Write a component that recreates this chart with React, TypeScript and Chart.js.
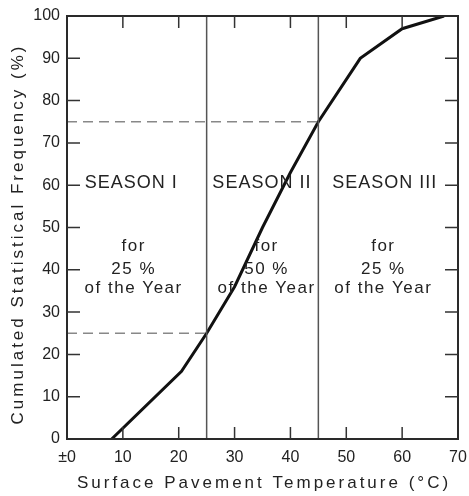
import React, { useEffect, useRef } from "react";
import { Chart, registerables } from "chart.js";

Chart.register(...registerables);

// Cumulated frequency curve (temperature °C -> cumulated frequency %)
const temperatures = [8, 20.5, 25, 30, 35, 40, 45, 52.5, 60, 67.5];
const frequencies = [0, 16, 25, 36, 50, 63, 75, 90, 97, 100];

// Season boundaries and the quartile levels they correspond to
const seasonBounds = [25, 45];
const quartileLevels = [25, 75];

// Tick labels
const xTickValues = [0, 10, 20, 30, 40, 50, 60, 70];
const xTickLabels = ["±0", "10", "20", "30", "40", "50", "60", "70"];
const yTickValues = [0, 10, 20, 30, 40, 50, 60, 70, 80, 90, 100];

// Season annotations
const seasonNames = ["SEASON I", "SEASON II", "SEASON III"];
const seasonShares = ["25 %", "50 %", "25 %"];
const seasonHeaderX = [11.4, 34.8, 56.8];
const seasonBodyX = [11.8, 35.6, 56.5];
const seasonTextY = [60.5, 45.5, 40, 35.6];

const xTitle = "Surface Pavement Temperature (°C)";
const yTitle = "Cumulated Statistical Frequency (%)";

const FONT = "'Liberation Sans', Arial, sans-serif";
const INK = "#222";

const decor = {
  id: "decor",
  afterDatasetsDraw(chart: any) {
    const { ctx, chartArea: a, scales } = chart;
    const xs = scales.x;
    const ys = scales.y;
    ctx.save();
    // frame
    ctx.strokeStyle = "#2a2a2a";
    ctx.lineWidth = 2;
    ctx.strokeRect(a.left, a.top, a.right - a.left, a.bottom - a.top);
    // inner tick marks
    ctx.lineWidth = 1.5;
    ctx.strokeStyle = "#333";
    ctx.beginPath();
    for (const v of xTickValues) {
      if (v <= xs.min || v >= xs.max) continue;
      const px = xs.getPixelForValue(v);
      ctx.moveTo(px, a.bottom);
      ctx.lineTo(px, a.bottom - 12);
      ctx.moveTo(px, a.top);
      ctx.lineTo(px, a.top + 12);
    }
    for (const v of yTickValues) {
      if (v <= ys.min || v >= ys.max) continue;
      const py = ys.getPixelForValue(v);
      ctx.moveTo(a.left, py);
      ctx.lineTo(a.left + 13, py);
      ctx.moveTo(a.right, py);
      ctx.lineTo(a.right - 13, py);
    }
    ctx.stroke();

    // season texts
    ctx.fillStyle = INK;
    ctx.textAlign = "center";
    ctx.textBaseline = "middle";
    seasonNames.forEach((name, i) => {
      ctx.font = `18px ${FONT}`;
      (ctx as any).letterSpacing = "1px";
      ctx.fillText(name, xs.getPixelForValue(seasonHeaderX[i]) + 0.5, ys.getPixelForValue(seasonTextY[0]));
      ctx.font = `17px ${FONT}`;
      (ctx as any).letterSpacing = "1.5px";
      const bx = xs.getPixelForValue(seasonBodyX[i]) + 0.75;
      ctx.fillText("for", bx, ys.getPixelForValue(seasonTextY[1]));
      ctx.fillText(seasonShares[i], bx, ys.getPixelForValue(seasonTextY[2]));
      ctx.fillText("of the Year", bx, ys.getPixelForValue(seasonTextY[3]));
    });
    ctx.restore();
  },
  afterDraw(chart: any) {
    const { ctx, chartArea: a } = chart;
    ctx.save();
    ctx.fillStyle = INK;
    ctx.font = `17px ${FONT}`;
    (ctx as any).letterSpacing = "3px";
    ctx.textAlign = "center";
    ctx.textBaseline = "middle";
    ctx.fillText(xTitle, (a.left + a.right) / 2 + 1.5, a.bottom + 44);
    ctx.translate(18, (a.top + a.bottom) / 2 + 8);
    ctx.rotate(-Math.PI / 2);
    ctx.fillText(yTitle, 1.5, 0);
    ctx.restore();
  },
};

export default function App() {
  const canvasRef = useRef<HTMLCanvasElement | null>(null);

  useEffect(() => {
    document.body.style.margin = "0";
    const canvas = canvasRef.current;
    if (!canvas) return;

    const curve = temperatures.map((t, i) => ({ x: t, y: frequencies[i] }));
    const verticals = seasonBounds.map((b) => ({
      type: "line" as const,
      data: [
        { x: b, y: 0 },
        { x: b, y: 100 },
      ],
      borderColor: "#555",
      borderWidth: 1.5,
      pointRadius: 0,
      fill: false,
    }));
    const dashed = quartileLevels.map((q, i) => ({
      type: "line" as const,
      data: [
        { x: 0, y: q },
        { x: seasonBounds[i], y: q },
      ],
      borderColor: "#888",
      borderWidth: 1.5,
      borderDash: [10, 6],
      pointRadius: 0,
      fill: false,
    }));

    const chart = new Chart(canvas, {
      type: "line",
      data: {
        datasets: [
          ...verticals,
          ...dashed,
          {
            type: "line",
            data: curve,
            borderColor: "#111",
            borderWidth: 3,
            pointRadius: 0,
            tension: 0,
            fill: false,
          },
        ] as any,
      },
      options: {
        responsive: false,
        animation: false,
        devicePixelRatio: 1,
        layout: { padding: { top: 16, right: 11, left: 0, bottom: 0 } },
        plugins: {
          legend: { display: false },
          tooltip: { enabled: false },
          title: { display: false },
        },
        scales: {
          x: {
            type: "linear",
            min: 0,
            max: 70,
            afterBuildTicks: (scale: any) => {
              scale.ticks = xTickValues.map((v) => ({ value: v }));
            },
            afterFit: (scale: any) => {
              scale.height = 57;
              scale.paddingLeft = 0;
              scale.paddingRight = 0;
            },
            ticks: {
              autoSkip: false,
              maxRotation: 0,
              padding: 9,
              color: INK,
              font: { family: FONT, size: 16 },
              callback: (v: any) => {
                const i = xTickValues.indexOf(Number(v));
                return i >= 0 ? xTickLabels[i] : "";
              },
            },
            grid: { display: false, drawTicks: false },
            border: { display: false },
          },
          y: {
            type: "linear",
            min: 0,
            max: 100,
            afterBuildTicks: (scale: any) => {
              scale.ticks = yTickValues.map((v) => ({ value: v }));
            },
            afterFit: (scale: any) => {
              scale.width = 67;
              scale.paddingTop = 0;
              scale.paddingBottom = 0;
            },
            ticks: {
              autoSkip: false,
              padding: 7,
              color: INK,
              font: { family: FONT, size: 16 },
            },
            grid: { display: false, drawTicks: false },
            border: { display: false },
          },
        },
      } as any,
      plugins: [decor],
    });

    return () => chart.destroy();
  }, []);

  return (
    <div style={{ width: 469, height: 496, background: "#fff" }}>
      <canvas ref={canvasRef} width={469} height={496} style={{ display: "block" }} />
    </div>
  );
}
